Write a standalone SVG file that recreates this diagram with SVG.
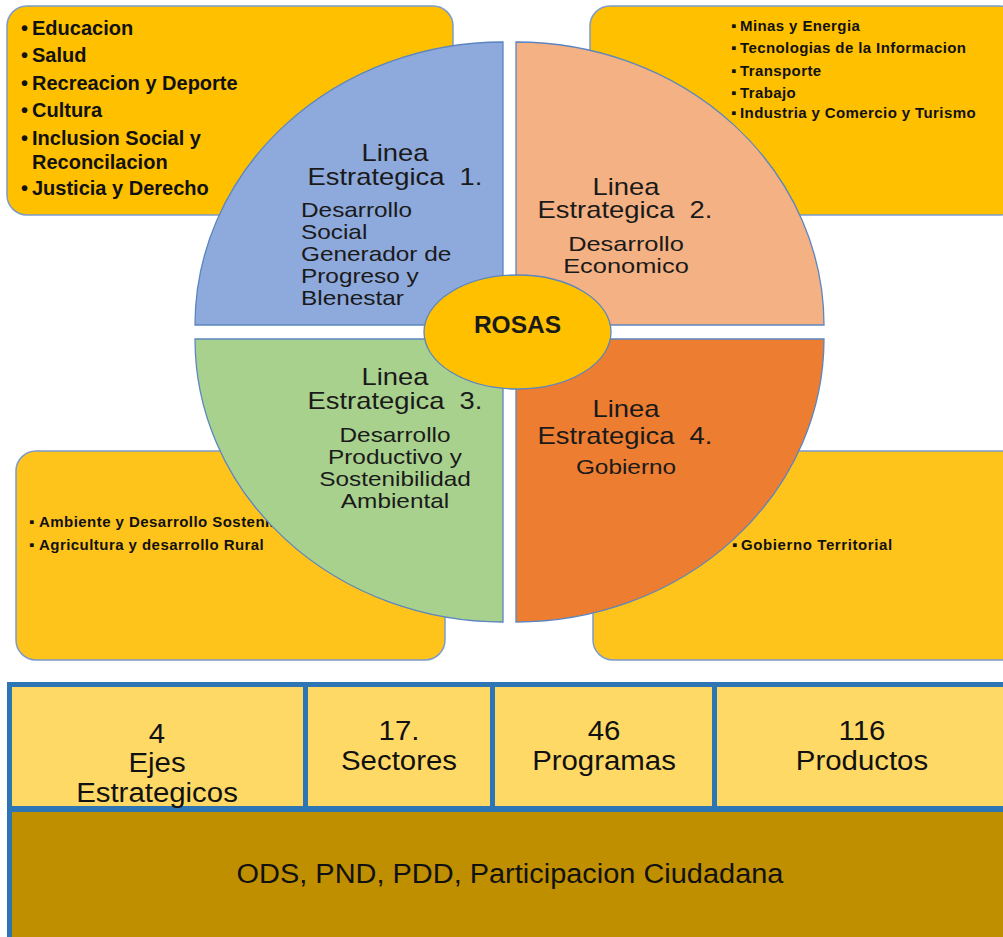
<svg xmlns="http://www.w3.org/2000/svg" width="1003" height="937" viewBox="0 0 1003 937">
<style>
.box{stroke:#7B9BCB;stroke-width:1.5}
.top{fill:#FFC000}
.bot{fill:#FFC41C}
.q{stroke:#5B86C0;stroke-width:1.3}
.lst{font-family:"Liberation Sans",Arial,sans-serif;font-weight:bold;fill:#111}
.ttl{font-family:"Liberation Sans",Arial,sans-serif;font-size:23px;fill:#1a1a1a;text-anchor:middle}
.sub{font-family:"Liberation Sans",Arial,sans-serif;font-size:21px;fill:#1a1a1a}
.tb{font-family:"Liberation Sans",Arial,sans-serif;font-size:28px;fill:#111;text-anchor:middle}
</style>
<rect width="1003" height="937" fill="#fff"/>
<g id="box-tl">
<rect class="box top" x="7" y="6" width="446" height="209" rx="20"/>
<g class="lst" font-size="20">
<text x="21" y="35">•<tspan x="32">Educacion</tspan></text>
<text x="21" y="62">•<tspan x="32">Salud</tspan></text>
<text x="21" y="90">•<tspan x="32">Recreacion y Deporte</tspan></text>
<text x="21" y="117">•<tspan x="32">Cultura</tspan></text>
<text x="21" y="145">•<tspan x="32">Inclusion Social y</tspan></text>
<text x="32" y="169">Reconcilacion</text>
<text x="21" y="195">•<tspan x="32">Justicia y Derecho</tspan></text>
</g>
</g>
<g id="box-tr">
<rect class="box top" x="590" y="6" width="430" height="209" rx="20"/>
<g class="lst" font-size="15" letter-spacing="0.4">
<text x="731" y="31">▪<tspan x="740">Minas y Energia</tspan></text>
<text x="731" y="53">▪<tspan x="740">Tecnologias de la Informacion</tspan></text>
<text x="731" y="76">▪<tspan x="740">Transporte</tspan></text>
<text x="731" y="98">▪<tspan x="740">Trabajo</tspan></text>
<text x="731" y="118">▪<tspan x="740">Industria y Comercio y Turismo</tspan></text>
</g>
</g>
<g id="box-bl">
<rect class="box bot" x="16" y="451" width="429" height="209" rx="20"/>
<g class="lst" font-size="15" letter-spacing="0.45">
<text x="29" y="527">▪<tspan x="39">Ambiente y Desarrollo Sostenible</tspan></text>
<text x="29" y="550">▪<tspan x="39">Agricultura y desarrollo Rural</tspan></text>
</g>
</g>
<g id="box-br">
<rect class="box bot" x="593" y="451" width="430" height="209" rx="20"/>
<g class="lst" font-size="15" letter-spacing="0.6">
<text x="732" y="550">▪<tspan x="741">Gobierno Territorial</tspan></text>
</g>
</g>
<g id="q1">
<path class="q" fill="#8EA9DB" d="M503,325 L195,325 A308,283 0 0 1 503,42 Z"/>
<text class="ttl" transform="translate(395,161) scale(1.19,1)">Linea</text>
<text class="ttl" transform="translate(395,185) scale(1.19,1)" xml:space="preserve">Estrategica  1.</text>
<g class="sub">
<text transform="translate(301,217) scale(1.16,1)">Desarrollo</text>
<text transform="translate(301,239) scale(1.16,1)">Social</text>
<text transform="translate(301,261) scale(1.16,1)">Generador de</text>
<text transform="translate(301,283) scale(1.16,1)">Progreso y</text>
<text transform="translate(301,305) scale(1.16,1)">Blenestar</text>
</g>
</g>
<g id="q2">
<path class="q" fill="#F4B183" d="M516,325 L516,42 A308,283 0 0 1 824,325 Z"/>
<text class="ttl" transform="translate(626,195) scale(1.19,1)">Linea</text>
<text class="ttl" transform="translate(625,218) scale(1.19,1)" xml:space="preserve">Estrategica  2.</text>
<g class="sub" text-anchor="middle" font-size="20">
<text transform="translate(626,251) scale(1.21,1)">Desarrollo</text>
<text transform="translate(626,273) scale(1.21,1)">Economico</text>
</g>
</g>
<g id="q3">
<path class="q" fill="#A9D18E" d="M503,339 L503,622 A308,283 0 0 1 195,339 Z"/>
<text class="ttl" transform="translate(395,385) scale(1.19,1)">Linea</text>
<text class="ttl" transform="translate(395,409) scale(1.19,1)" xml:space="preserve">Estrategica  3.</text>
<g class="sub" text-anchor="middle">
<text transform="translate(395,442) scale(1.16,1)">Desarrollo</text>
<text transform="translate(395,464) scale(1.16,1)">Productivo y</text>
<text transform="translate(395,486) scale(1.16,1)">Sostenibilidad</text>
<text transform="translate(395,508) scale(1.16,1)">Ambiental</text>
</g>
</g>
<g id="q4">
<path class="q" fill="#ED7D31" d="M516,339 L824,339 A308,283 0 0 1 516,622 Z"/>
<text class="ttl" transform="translate(626,417) scale(1.19,1)">Linea</text>
<text class="ttl" transform="translate(625,444) scale(1.19,1)" xml:space="preserve">Estrategica  4.</text>
<text class="sub" text-anchor="middle" transform="translate(626,474) scale(1.16,1)">Gobierno</text>
</g>
<g id="rosas">
<ellipse cx="517.5" cy="332" rx="93.5" ry="57" fill="#FFC000" stroke="#5B86C0" stroke-width="1.3"/>
<text x="517.5" y="333" font-family="'Liberation Sans',Arial,sans-serif" font-weight="bold" font-size="24.5" text-anchor="middle" fill="#1a1a1a">ROSAS</text>
</g>
<g id="table">
<rect x="7" y="682" width="1003" height="260" fill="#2E75B6"/>
<rect x="12" y="687" width="291" height="119" fill="#FFD966"/>
<rect x="308" y="687" width="182" height="119" fill="#FFD966"/>
<rect x="495" y="687" width="217" height="119" fill="#FFD966"/>
<rect x="717" y="687" width="293" height="119" fill="#FFD966"/>
<rect x="12" y="812" width="998" height="130" fill="#BF8F00"/>
<g id="cell-ejes"><text class="tb" transform="translate(157,743) scale(1.05,1)">4</text><text class="tb" transform="translate(157,772) scale(1.05,1)">Ejes</text><text class="tb" transform="translate(157,802) scale(1.05,1)">Estrategicos</text></g>
<g id="cell-sectores"><text class="tb" transform="translate(399,740) scale(1.05,1)">17.</text><text class="tb" transform="translate(399,770) scale(1.05,1)">Sectores</text></g>
<g id="cell-programas"><text class="tb" transform="translate(604,740) scale(1.05,1)">46</text><text class="tb" transform="translate(604,770) scale(1.05,1)">Programas</text></g>
<g id="cell-productos"><text class="tb" transform="translate(862,740) scale(1.05,1)">116</text><text class="tb" transform="translate(862,770) scale(1.05,1)">Productos</text></g>
<g id="cell-ods"><text class="tb" transform="translate(510,883) scale(1.034,1)">ODS, PND, PDD, Participacion Ciudadana</text></g>
</g>
</svg>
